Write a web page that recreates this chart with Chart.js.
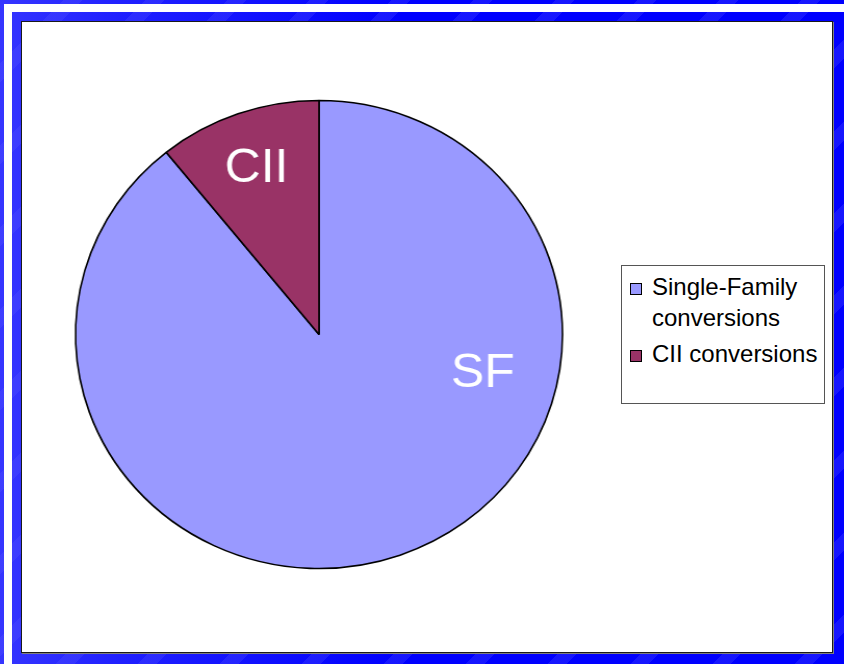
<!DOCTYPE html>
<html>
<head>
<meta charset="utf-8">
<script src="https://cdn.jsdelivr.net/npm/chart.js@4.4.1/dist/chart.umd.min.js"></script>
<style>
  html, body {
    margin: 0;
    padding: 0;
    width: 844px;
    height: 664px;
    overflow: hidden;
  }
  body {
    position: relative;
    background-color: #0000ff;
    background-image:
      repeating-linear-gradient(135deg, rgba(255,255,255,0) 0px, rgba(255,255,255,0) 45px, rgba(90,90,255,0.25) 45px, rgba(90,90,255,0.25) 58px),
      linear-gradient(to right, #3535ff 0px, #2020ff 120px, #0000ff 400px);
  }
  #frame {
    position: absolute;
    left: 4px;
    top: 4px;
    width: 900px;
    height: 658px;
    border: 8px solid #ffffff;
    border-bottom-color: #dcdcff;
    border-right: none;
    box-sizing: content-box;
  }
  #panel {
    position: absolute;
    left: 21px;
    top: 21px;
    width: 812px;
    height: 632px;
    box-sizing: border-box;
    background: #ffffff;
    border: 1px solid #1a1a1a;
    box-shadow: 1px 1px 0 #808080;
  }
  #chart {
    position: absolute;
    left: 0;
    top: 0;
    transform: scaleX(1.0405);
    transform-origin: 319px 0;
  }
  #legend {
    position: absolute;
    left: 621px;
    top: 265px;
    width: 204px;
    height: 139px;
    box-sizing: border-box;
    border: 1px solid #555555;
    background: #ffffff;
    padding: 5px 0 0 0;
    font-family: Arial, "Liberation Sans", sans-serif;
    font-size: 24px;
    line-height: 31px;
    color: #000000;
  }
  .item {
    position: relative;
    padding-left: 30px;
    margin-bottom: 5px;
  }
  .swatch {
    position: absolute;
    left: 8px;
    top: 12px;
    width: 12px;
    height: 12px;
    box-sizing: border-box;
    border: 1px solid #000000;
  }
</style>
</head>
<body>
<div id="frame"></div>
<div id="panel"></div>
<canvas id="chart" width="844" height="664"></canvas>
<div id="legend"></div>

<script>
// slice data
const sliceLabels = ["SF", "CII"];
const legendLabels = ["Single-Family conversions", "CII conversions"];
const sliceValues = [89.2, 10.8];
const sliceColors = ["#9999ff", "#993366"];

// where each slice's text sits: fraction along the arc, fraction of radius
const labelSpots = [
  { t: 0.32, r: 0.69 },
  { t: 0.5, r: 0.77 },
];

const sliceLabelPlugin = {
  id: "sliceLabels",
  afterDatasetsDraw(chart) {
    const ctx = chart.ctx;
    const meta = chart.getDatasetMeta(0);
    ctx.save();
    ctx.fillStyle = "#ffffff";
    ctx.font = '48px Arial, "Liberation Sans", sans-serif';
    ctx.textAlign = "center";
    ctx.textBaseline = "alphabetic";
    meta.data.forEach((arc, i) => {
      const spot = labelSpots[i];
      const angle = arc.startAngle + (arc.endAngle - arc.startAngle) * spot.t;
      const dist = arc.outerRadius * spot.r;
      const x = arc.x + Math.cos(angle) * dist;
      const y = arc.y + Math.sin(angle) * dist;
      ctx.fillText(sliceLabels[i], x, y + 17);
    });
    ctx.restore();
  },
};

new Chart(document.getElementById("chart").getContext("2d"), {
  type: "pie",
  data: {
    labels: legendLabels,
    datasets: [
      {
        data: sliceValues,
        backgroundColor: sliceColors,
        borderColor: "#000000",
        borderWidth: 1.6,
        radius: 234,
      },
    ],
  },
  options: {
    responsive: false,
    animation: false,
    layout: {
      padding: { left: 0, right: 206, top: 5, bottom: 0 },
    },
    plugins: {
      legend: { display: false },
      tooltip: { enabled: false },
    },
  },
  plugins: [sliceLabelPlugin],
});

// legend box built from the same arrays
const legendEl = document.getElementById("legend");
legendLabels.forEach((label, i) => {
  const item = document.createElement("div");
  item.className = "item";
  const sw = document.createElement("span");
  sw.className = "swatch";
  sw.style.background = sliceColors[i];
  item.appendChild(sw);
  item.appendChild(document.createTextNode(label));
  legendEl.appendChild(item);
});
</script>
</body>
</html>
